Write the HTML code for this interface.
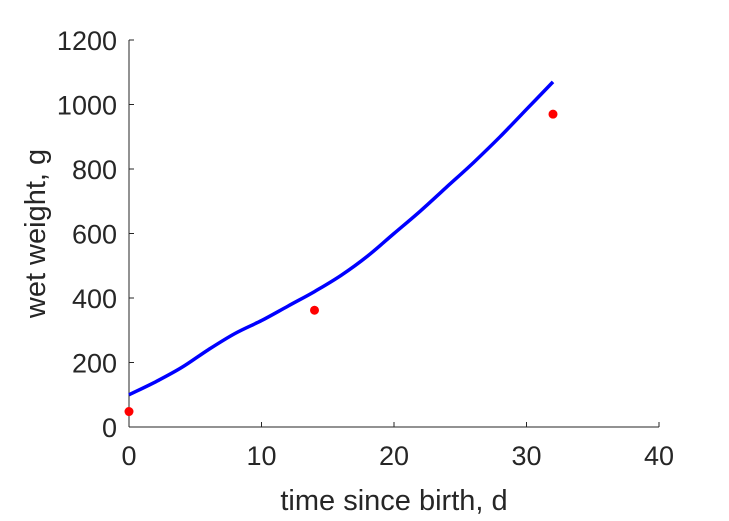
<!DOCTYPE html>
<html><head><meta charset="utf-8"><style>
html,body{margin:0;padding:0;background:#fff;}
svg{display:block;font-family:"Liberation Sans",Arial,sans-serif;}
</style></head><body>
<svg id="chart" width="729" height="521" viewBox="0 0 729 521"></svg>
<script>
const xTicks=[0,10,20,30,40];
const yTicks=[0,200,400,600,800,1000,1200];
const curveT=[0,2,4,6,8,10,12,14,16,18,20,22,24,26,28,30,32];
const curveW=[100,140,185,240,290,330,375,420,470,530,600,670,745,820,900,985,1070];
const dataT=[0,14,32];
const dataW=[48,362,970];
const NS="http://www.w3.org/2000/svg";
const svg=document.getElementById('chart');
const X0=129,X1=659,Y0=427,Y1=40;
const xs=v=>X0+(v-0)/(40-0)*(X1-X0);
const ys=v=>Y0-(v-0)/(1200-0)*(Y0-Y1);
function mk(t,a){const e=document.createElementNS(NS,t);for(const k in a)e.setAttribute(k,a[k]);svg.appendChild(e);return e;}
let e;
e=mk('line',{x1:X0,y1:Y0,x2:X1,y2:Y0,stroke:'#262626','stroke-width':1});


e=mk('line',{x1:X0,y1:Y0,x2:X0,y2:Y1,stroke:'#262626','stroke-width':1});


xTicks.forEach(v=>{
 e=mk('line',{x1:xs(v),y1:Y0,x2:xs(v),y2:Y0-5,stroke:'#262626'});
 
 
 e=mk('text',{x:xs(v),y:Y0+38,'text-anchor':'middle','font-size':27,fill:'#262626'});
 e.textContent=v;
 
 
});
yTicks.forEach(v=>{
 e=mk('line',{x1:X0,y1:ys(v),x2:X0+5,y2:ys(v),stroke:'#262626'});
 
 
 e=mk('text',{x:X0-12,y:ys(v)+10,'text-anchor':'end','font-size':27,fill:'#262626'});
 e.textContent=v;
 
 
});
e=mk('text',{x:(X0+X1)/2,y:510,'text-anchor':'middle','font-size':29,fill:'#262626'});
e.textContent='time since birth, d';


e=mk('text',{x:0,y:0,'text-anchor':'middle','font-size':29,fill:'#262626',transform:'translate(45,'+((Y0+Y1)/2)+') rotate(-90)'});
e.textContent='wet weight, g';


const P=curveT.map((t,i)=>[xs(t),ys(curveW[i])]);
let d='M'+P[0][0].toFixed(1)+','+P[0][1].toFixed(1);
for(let i=0;i<P.length-1;i++){
 const p0=P[Math.max(0,i-1)],p1=P[i],p2=P[i+1],p3=P[Math.min(P.length-1,i+2)];
 const c1=[p1[0]+(p2[0]-p0[0])/6,p1[1]+(p2[1]-p0[1])/6];
 const c2=[p2[0]-(p3[0]-p1[0])/6,p2[1]-(p3[1]-p1[1])/6];
 d+=' C'+c1[0].toFixed(1)+','+c1[1].toFixed(1)+' '+c2[0].toFixed(1)+','+c2[1].toFixed(1)+' '+p2[0].toFixed(1)+','+p2[1].toFixed(1);
}
e=mk('path',{d:d,fill:'none',stroke:'#0000ff','stroke-width':3.5,'stroke-linejoin':'round'});


dataT.forEach((t,i)=>{
 e=mk('circle',{cx:xs(t),cy:ys(dataW[i]),r:4.5,fill:'#ff0000'});
 
 
});
</script>
</body></html>
